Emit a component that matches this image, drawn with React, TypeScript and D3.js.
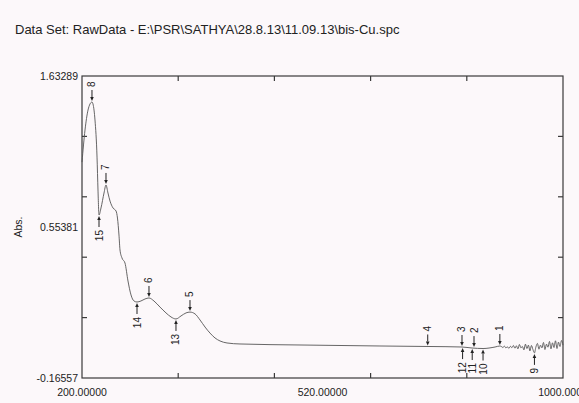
import React from "react";
import * as d3 from "d3";

const TITLE = "Data Set: RawData - E:\\PSR\\SATHYA\\28.8.13\\11.09.13\\bis-Cu.spc";
const X_DOMAIN = [200, 1000];
const Y_DOMAIN = [-0.16557, 1.63289];
const xTickLabels = ["200.00000", "520.00000", "1000.0000"];
const yTickLabels = ["1.63289", "0.55381", "-0.16557"];
const Y_TITLE = "Abs.";
const X_TITLE = "nm";

const wavelengths = [
  200, 205, 210, 213.3, 216.6, 220, 221.6, 225, 226.6, 228.3, 231.6, 236.6, 239.9, 243.2, 246.6,
  251.6, 256.6, 259, 261.5, 263.2, 266.5, 271.5, 276.5, 281.5, 286.5, 291.5, 298, 304.8, 311.4,
  319.7, 329.7, 339.7, 348, 356.3, 364.7, 373, 379.6, 388, 396.3, 404.6, 412.9, 421.2, 429.5,
  441.2, 462.8, 562.6, 695.6, 778.8, 832, 848.7, 867, 887, 895,
  897.5, 900, 902.5, 905, 907.5, 910, 912.5, 915, 917.5, 920, 922.5, 925, 927.5, 930, 932.5,
  935, 937.5, 940, 942.5, 945, 947.5, 950, 952.5, 955, 957.5, 960, 962.5, 965, 967.5, 970,
  972.5, 975, 977.5, 980, 982.5, 985, 987.5, 990, 992.5, 995, 997.5, 1000,
];
const absorbance = [
  1.12, 1.311, 1.43, 1.466, 1.478, 1.43, 1.371, 1.15, 0.954, 0.805, 0.847, 0.936, 0.984, 0.936, 0.888,
  0.847, 0.829, 0.787, 0.686, 0.597, 0.549, 0.519, 0.412, 0.329, 0.293, 0.287, 0.293, 0.305, 0.311,
  0.293, 0.257, 0.222, 0.198, 0.186, 0.204, 0.222, 0.227, 0.216, 0.18, 0.138, 0.102, 0.073, 0.055,
  0.043, 0.037, 0.031, 0.025, 0.022, 0.019, 0.013, 0.01, 0.019, 0.025,
  0.022, 0.016, 0.024, 0.014, 0.02, 0.011, 0.023, 0.015, 0.028, 0.012, 0.026, 0.008, 0.034, 0.014, 0.022,
  0.002, 0.036, 0.01, 0.03, -0.004, 0.028, 0.004, -0.016, 0.02, 0.04, 0.006, 0.03, 0.014, 0.046, 0.004,
  0.036, 0.018, 0.052, 0.008, 0.044, 0.016, 0.056, 0.01, 0.048, 0.022, 0.058, 0.03,
];

const markerLabels = ["8", "7", "6", "5", "4", "3", "2", "1", "15", "14", "13", "12", "11", "10", "9"];
const markerWl = [216.6, 239.9, 311.4, 379.6, 775, 832, 852, 895, 228.3, 291.5, 356.3, 833, 849, 867, 952.5];
const markerKind = ["max", "max", "max", "max", "max", "max", "max", "max", "min", "min", "min", "min", "min", "min", "min"];

const W = 579;
const H = 403;
const L = 82, R = 563, T = 76, B = 378;
const FONT = "'Liberation Sans', Arial, sans-serif";
const INK = "#3a3a3a";

export default function App() {
  const x = d3.scaleLinear().domain(X_DOMAIN).range([L, R]);
  const y = d3.scaleLinear().domain(Y_DOMAIN).range([B, T]);
  const pts = wavelengths.map((w, i) => [w, absorbance[i]] as [number, number]);
  const line = d3.line<[number, number]>().x((d) => x(d[0])).y((d) => y(d[1])).curve(d3.curveMonotoneX);
  const interp = (w: number) => {
    const i = Math.max(1, Math.min(wavelengths.length - 1, d3.bisectLeft(wavelengths, w)));
    const w0 = wavelengths[i - 1], w1 = wavelengths[i];
    const t = (w - w0) / (w1 - w0);
    return absorbance[i - 1] + t * (absorbance[i] - absorbance[i - 1]);
  };
  const xStep = (X_DOMAIN[1] - X_DOMAIN[0]) / 5;
  const yStep = (Y_DOMAIN[1] - Y_DOMAIN[0]) / 5;
  const xTicks = [1, 2, 3, 4].map((k) => X_DOMAIN[0] + k * xStep);
  const yTicks = [1, 2, 3, 4].map((k) => Y_DOMAIN[0] + k * yStep);
  const xLabelPos = [X_DOMAIN[0], (X_DOMAIN[0] + X_DOMAIN[1]) / 2, X_DOMAIN[1]];
  const yLabelPos = [Y_DOMAIN[1], (Y_DOMAIN[0] + Y_DOMAIN[1]) / 2, Y_DOMAIN[0]];

  return (
    <svg width={W} height={H} style={{ display: "block", position: "absolute", left: 0, top: 0, background: "#fcf8fa" }}>
      <rect x={0} y={0} width={W} height={H} fill="#fcf8fa" />
      <text x={15} y={34} fontFamily={FONT} fontSize={13} fill="#222">{TITLE}</text>
      <rect x={L} y={T} width={R - L} height={B - T} fill="none" stroke={INK} strokeWidth={1.2} />
      {xTicks.map((t, i) => (
        <g key={"xt" + i}>
          <line x1={x(t)} x2={x(t)} y1={T} y2={T + 5} stroke={INK} strokeWidth={1.2} />
          <line x1={x(t)} x2={x(t)} y1={B} y2={B - 5} stroke={INK} strokeWidth={1.2} />
        </g>
      ))}
      {yTicks.map((t, i) => (
        <g key={"yt" + i}>
          <line x1={L} x2={L + 5} y1={y(t)} y2={y(t)} stroke={INK} strokeWidth={1.2} />
          <line x1={R} x2={R - 5} y1={y(t)} y2={y(t)} stroke={INK} strokeWidth={1.2} />
        </g>
      ))}
      {yTickLabels.map((s, i) => (
        <text key={"yl" + i} x={L - 4} y={y(yLabelPos[i])} dy="0.35em" textAnchor="end" fontFamily={FONT} fontSize={10.5} fill="#222">{s}</text>
      ))}
      {xTickLabels.map((s, i) => (
        <text key={"xl" + i} x={x(xLabelPos[i])} y={396} textAnchor="middle" fontFamily={FONT} fontSize={10.5} fill="#222">{s}</text>
      ))}
      <text x={322} y={409} textAnchor="middle" fontFamily={FONT} fontSize={10.5} fill="#222">{X_TITLE}</text>
      <text transform={`translate(18,${(T + B) / 2}) rotate(-90)`} textAnchor="middle" dy="0.35em" fontFamily={FONT} fontSize={10.5} fill="#222">{Y_TITLE}</text>
      <path d={line(pts) || ""} fill="none" stroke="#555" strokeWidth={0.9} />
      {markerLabels.map((lab, i) => {
        const px = x(markerWl[i]);
        const py = y(interp(markerWl[i]));
        const isMax = markerKind[i] === "max";
        const s = isMax ? -1 : 1;
        const tip = py + s * 1;
        const tail = py + s * 12;
        const head = py + s * 5;
        return (
          <g key={"m" + i}>
            <line x1={px} x2={px} y1={tail} y2={head} stroke="#222" strokeWidth={1} />
            <path d={`M${px - 1.8},${head} L${px + 1.8},${head} L${px},${tip} Z`} fill="#222" />
            <text
              transform={`translate(${px},${py + s * 15}) rotate(-90)`}
              textAnchor={isMax ? "start" : "end"}
              dy="0.35em"
              fontFamily={FONT}
              fontSize={10}
              fill="#222"
            >{lab}</text>
          </g>
        );
      })}
    </svg>
  );
}
